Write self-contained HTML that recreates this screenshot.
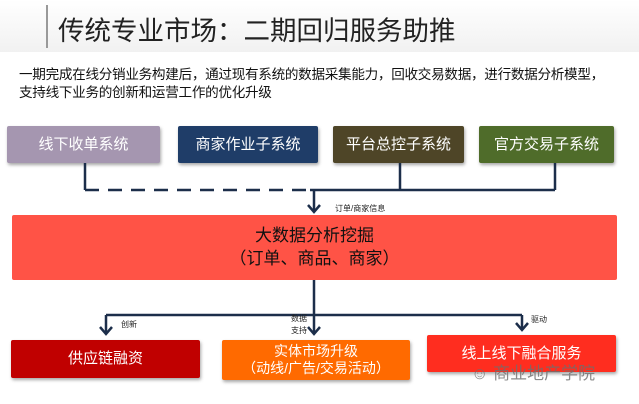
<!DOCTYPE html>
<html><head><meta charset="utf-8"><style>
body{margin:0;width:639px;height:404px;background:#fff;position:relative;overflow:hidden;font-family:"Liberation Sans","Noto Sans CJK SC",sans-serif}
.a{position:absolute}
.box{position:absolute;color:#fff;text-align:center;border-radius:2px;box-shadow:1px 2px 3px rgba(0,0,0,.35);display:flex;align-items:center;justify-content:center;flex-direction:column;line-height:1.3}
</style></head><body>
<div class="a" style="left:0;top:0;width:639px;height:52px;background:linear-gradient(#fff,#f1f1f1)"></div>
<div class="a" style="left:46px;top:5px;width:2px;height:43px;background:#999"></div>
<div class="a" style="left:58px;top:9px;font-size:26.5px;color:#222;white-space:nowrap">传统专业市场：二期回归服务助推</div>
<div class="a" style="left:19px;top:66px;font-size:13.6px;color:#111;line-height:18px;white-space:nowrap;letter-spacing:-0.3px">一期完成在线分销业务构建后，通过现有系统的数据采集能力，回收交易数据，进行数据分析模型，<br>支持线下业务的创新和运营工作的优化升级</div>
<div class="box" style="left:7px;top:126px;width:153px;height:37px;background:#a596b0;font-size:15px">线下收单系统</div>
<div class="box" style="left:178px;top:126px;width:140px;height:37px;background:#1f3d68;font-size:15px">商家作业子系统</div>
<div class="box" style="left:333px;top:126px;width:131px;height:37px;background:#4e4527;font-size:15px">平台总控子系统</div>
<div class="box" style="left:479px;top:126px;width:135px;height:37px;background:#4f6c2a;font-size:15px">官方交易子系统</div>
<svg class="a" style="left:0;top:0" width="639" height="404">
<g stroke="#1c2e4a" stroke-width="2.5" fill="none">
<path d="M85 163V190"/>
<path d="M85 190H310" stroke-dasharray="14,9"/>
<path d="M310 190H555M400 163V190M555 163V190M314 190V212"/>
<path d="M308 205L314 212L320 205"/>
<path d="M314 280V315M106 315H522M106 315V334M314 315V334M522 315V330"/>
<path d="M100 327L106 334L112 327M308 327L314 334L320 327M516 323L522 330L528 323"/>
</g></svg>
<div class="a" style="left:335px;top:203px;font-size:8px;color:#222">订单/商家信息</div>
<div class="box" style="left:12px;top:215px;width:605px;height:65px;background:#ff5346;color:#111;font-size:17px;box-shadow:none">大数据分析挖掘<br>（订单、商品、商家）</div>
<div class="a" style="left:121px;top:319px;font-size:8px;color:#222">创新</div>
<div class="a" style="left:291px;top:313px;font-size:8px;color:#222;line-height:12px">数据<br>支持</div>
<div class="a" style="left:531px;top:314px;font-size:8px;color:#222">驱动</div>
<div class="box" style="left:11px;top:340px;width:189px;height:38px;background:#c00000;font-size:15px">供应链融资</div>
<div class="box" style="left:222px;top:340px;width:188px;height:40px;background:#ff6a00;font-size:14px;line-height:1.25">实体市场升级<br>（动线/广告/交易活动）</div>
<div class="box" style="left:427px;top:335px;width:189px;height:37px;background:#ff2d1f;font-size:15px">线上线下融合服务</div>
<div class="a" style="left:471px;top:359px;font-size:17px;color:rgba(110,110,110,.8);white-space:nowrap">☺ 商业地产学院</div>
</body></html>
